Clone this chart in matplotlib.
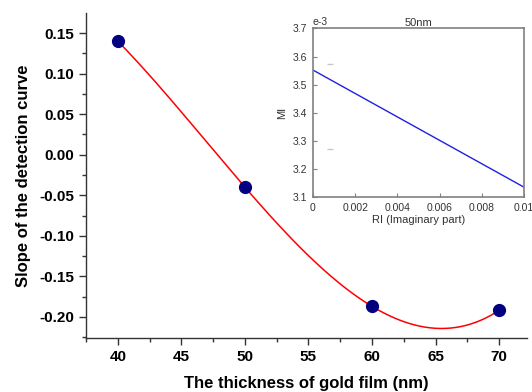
import numpy as np
import matplotlib
matplotlib.use("Agg")
import matplotlib.pyplot as plt
from matplotlib.ticker import MultipleLocator, FixedLocator, FixedFormatter

plt.rcParams['font.family'] = ['Liberation Sans', 'DejaVu Sans']

# Main data
thickness = [40, 50, 60, 70]
slope = [0.14, -0.04, -0.187, -0.192]

# Inset data
ri = [0.0, 0.01]
mi = [3.552, 3.135]
inset_xticks = [0, 0.002, 0.004, 0.006, 0.008, 0.01]
inset_xlabels = ["0", "0.002", "0.004", "0.006", "0.008", "0.01"]
inset_yticks = [3.1, 3.2, 3.3, 3.4, 3.5, 3.6, 3.7]
inset_ylabels = ["3.1", "3.2", "3.3", "3.4", "3.5", "3.6", "3.7"]
stray_x = [0.0008, 0.0008]
stray_y = [3.572, 3.272]

fig = plt.figure(figsize=(5.32, 3.92), dpi=100)
ax = fig.add_axes([0.1617, 0.1378, 0.8289, 0.829])

coef = np.polyfit(thickness, slope, 3)
xs = np.linspace(40, 70, 300)
ax.plot(xs, np.polyval(coef, xs), color='red', lw=1.1, zorder=2)
ax.plot(thickness, slope, 'o', color='#000080', markersize=8.5, zorder=3)

ax.set_xlim(37.5, 72.2)
ax.set_ylim(-0.226, 0.1747)
ax.xaxis.set_major_locator(MultipleLocator(5))
ax.xaxis.set_minor_locator(MultipleLocator(2.5))
ax.yaxis.set_major_locator(MultipleLocator(0.05))
ax.yaxis.set_minor_locator(MultipleLocator(0.025))
ax.yaxis.set_major_formatter(plt.FuncFormatter(lambda v, p: f"{v:.2f}"))
for s in ['top', 'right']:
    ax.spines[s].set_visible(False)
for s in ['left', 'bottom']:
    ax.spines[s].set_color('#333333')
    ax.spines[s].set_linewidth(1.0)
ax.tick_params(which='major', direction='out', length=5, width=1, colors='#333333',
               labelsize=11, labelcolor='black')
ax.tick_params(which='minor', direction='out', length=3, width=1, colors='#333333')
for lab in ax.get_xticklabels() + ax.get_yticklabels():
    lab.set_fontweight('bold')
ax.set_xlabel("The thickness of gold film (nm)", fontsize=12, fontweight='bold', labelpad=9)
ax.set_ylabel("Slope of the detection curve", fontsize=12, fontweight='bold', labelpad=6)

# Inset
ins = fig.add_axes([0.5883, 0.4974, 0.3967, 0.4299])
ins.plot(ri, mi, color='#2020e0', lw=1.0)
ins.plot(stray_x, stray_y, '_', color='#c8c8c8', markersize=5)
ins.set_xlim(0, 0.01)
ins.set_ylim(3.1, 3.7)
ins.xaxis.set_major_locator(FixedLocator(inset_xticks))
ins.xaxis.set_major_formatter(FixedFormatter(inset_xlabels))
ins.yaxis.set_major_locator(FixedLocator(inset_yticks))
ins.yaxis.set_major_formatter(FixedFormatter(inset_ylabels))
for s in ins.spines.values():
    s.set_color('#808080')
    s.set_linewidth(1.2)
ins.tick_params(direction='in', length=3, width=0.8, colors='#808080',
                labelsize=7.5, labelcolor='#333333', pad=4)
ins.set_xlabel("RI (Imaginary part)", fontsize=8, color='#333333', labelpad=2)
ins.set_ylabel("MI", fontsize=8, color='#333333', labelpad=4)
ins.set_title("50nm", fontsize=8, color='#333333', pad=2)
ins.text(0.0, 1.01, "e-3", transform=ins.transAxes, fontsize=7.5, color='#333333',
         ha='left', va='bottom')

fig.savefig("out.png", dpi=100)
